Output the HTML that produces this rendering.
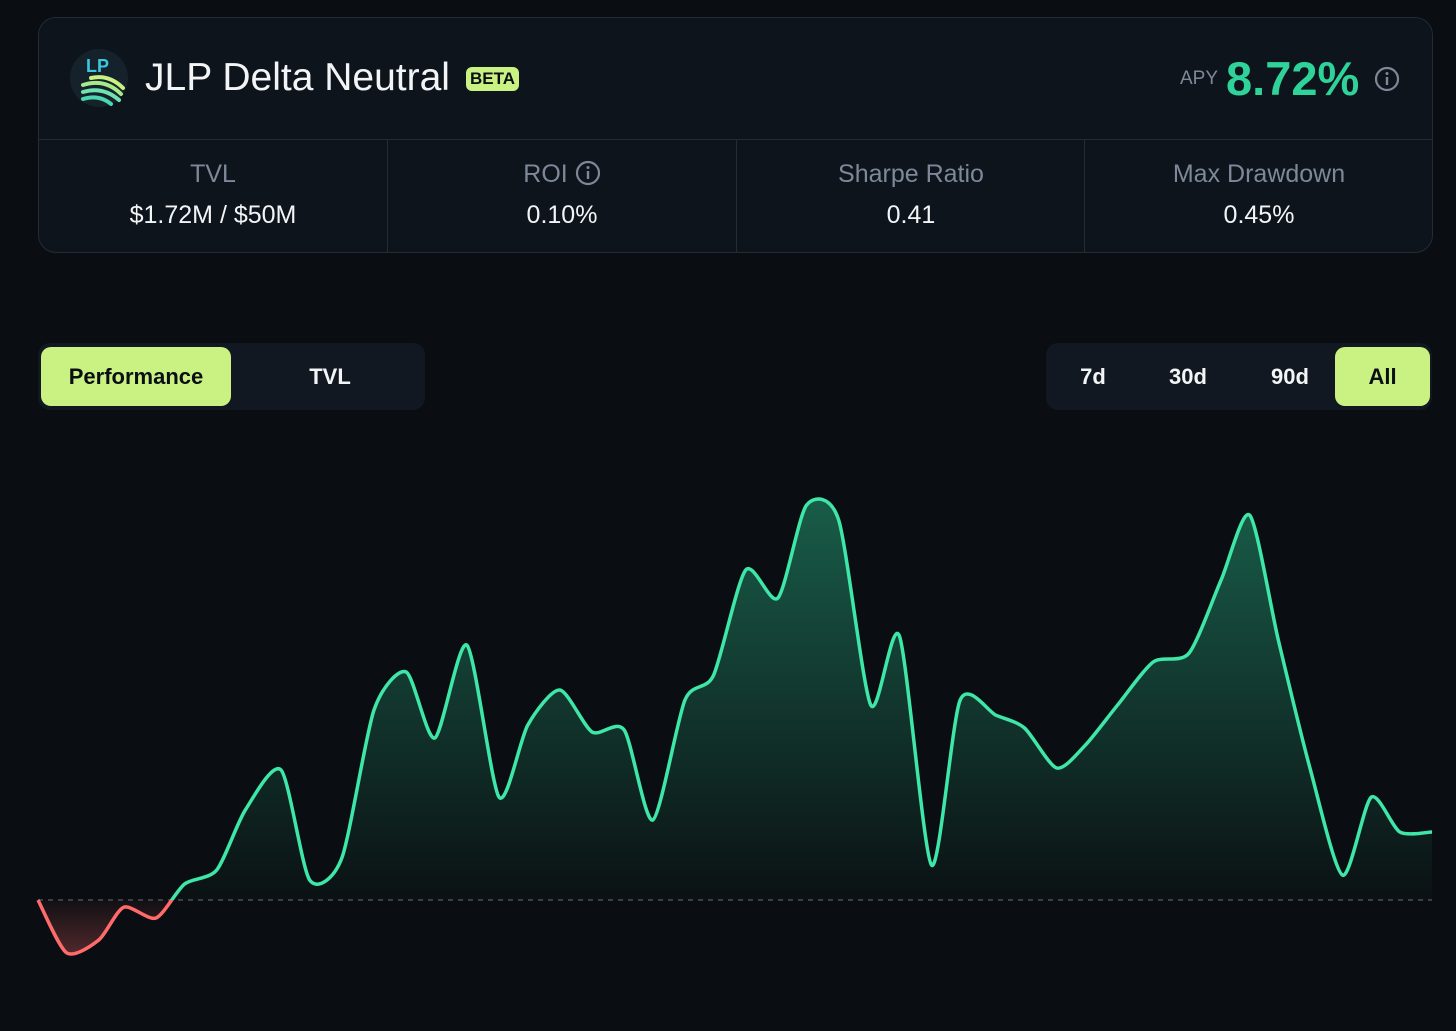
<!DOCTYPE html>
<html><head><meta charset="utf-8"><style>
body{margin:0;width:1456px;height:1031px;background:#0a0d11;font-family:"Liberation Sans",sans-serif;position:relative;overflow:hidden;color:#e8ecf0}
.card{position:absolute;left:38px;top:17px;width:1393px;height:234px;border:1px solid #222b36;border-radius:18px;background:#0e141c}
.hdr{position:absolute;left:0;top:0;width:100%;height:121px;border-bottom:1px solid #222b36}
.stat{position:absolute;top:122px;height:112px;width:348px;text-align:center;border-left:1px solid #222b36}
.stat .l{margin-top:20px;font-size:25px;color:#7d8899}
.stat .v{margin-top:12px;font-size:25px;color:#f2f4f6}
.tog{position:absolute;background:#111821;border-radius:12px;top:343px;height:67px}
.btn{position:absolute;top:4px;height:59px;line-height:59px;text-align:center;font-size:22px;font-weight:bold;color:#f2f4f6;border-radius:10px}
.on{background:#c9f283;color:#0b0f14}
</style></head><body>
<div class="card">
 <div class="hdr">
  <svg style="position:absolute;left:30px;top:30px" width="60" height="60">
   <circle cx="30" cy="30" r="29" fill="#16222b"/>
   <text x="17" y="24" font-size="18" font-weight="bold" fill="#3ac7e0" font-family="Liberation Sans">LP</text>
   <path d="M14 44 Q34 38 50 52" stroke="#6fe3b0" stroke-width="4" fill="none" stroke-linecap="round"/>
   <path d="M14 37 Q36 30 52 46" stroke="#a8e98a" stroke-width="4" fill="none" stroke-linecap="round"/>
   <path d="M22 30 Q40 26 54 40" stroke="#c9f283" stroke-width="4" fill="none" stroke-linecap="round"/>
   <path d="M14 51 Q30 46 42 56" stroke="#4ad6b0" stroke-width="4" fill="none" stroke-linecap="round"/>
  </svg>
  <div style="position:absolute;left:106px;top:38px;font-size:39px;color:#f2f4f6">JLP Delta Neutral</div>
  <div style="position:absolute;left:427px;top:49px;background:#c9f283;color:#0b0f14;font-size:17px;font-weight:bold;padding:2px 4px;border-radius:6px">BETA</div>
  <div style="position:absolute;left:1141px;top:50px;font-size:19px;color:#7d8899">APY</div>
  <div style="position:absolute;left:1187px;top:33px;font-size:47px;font-weight:bold;color:#2fd39a">8.72%</div>
  <svg style="position:absolute;left:1335px;top:48px" width="26" height="26"><circle cx="13" cy="13" r="11" stroke="#7d8899" stroke-width="2.2" fill="none"/><rect x="11.8" y="11" width="2.4" height="8" fill="#7d8899"/><circle cx="13" cy="7.5" r="1.5" fill="#7d8899"/></svg>
 </div>
 <div class="stat" style="left:0;border-left:none"><div class="l">TVL</div><div class="v">$1.72M / $50M</div></div>
 <div class="stat" style="left:348px"><div class="l">ROI <svg width="26" height="26" style="vertical-align:-4px"><circle cx="13" cy="13" r="11" stroke="#7d8899" stroke-width="2.2" fill="none"/><rect x="11.8" y="11" width="2.4" height="8" fill="#7d8899"/><circle cx="13" cy="7.5" r="1.5" fill="#7d8899"/></svg></div><div class="v">0.10%</div></div>
 <div class="stat" style="left:697px"><div class="l">Sharpe Ratio</div><div class="v">0.41</div></div>
 <div class="stat" style="left:1045px"><div class="l">Max Drawdown</div><div class="v">0.45%</div></div>
</div>
<div class="tog" style="left:38px;width:387px">
 <div class="btn on" style="left:3px;width:190px">Performance</div>
 <div class="btn" style="left:197px;width:190px">TVL</div>
</div>
<div class="tog" style="left:1046px;width:386px">
 <div class="btn" style="left:4px;width:86px">7d</div>
 <div class="btn" style="left:96px;width:92px">30d</div>
 <div class="btn" style="left:196px;width:96px">90d</div>
 <div class="btn on" style="left:289px;width:95px">All</div>
</div>
<svg id="chart" width="1456" height="1031" style="position:absolute;left:0;top:0"></svg>
<script>
const days=[0,8,17,24,33,41,50,58,68,76,85,94,103,111,120,129,137,146,155,164,172,181,189,198,207,215,224,233,241,250,258,268,276,285,293,302,312,322,331,339,347,356,365,373,381,390];
const values=[0,-13.2,-10,-1.8,-4.5,4,7.5,22.5,32.5,5,10.5,47.5,57,40.5,63.7,25.7,43.7,52.5,42,42.5,20,50,56.2,82.5,75.5,98.7,95,48.7,66,8.7,50,46.2,43,33,38.7,48.7,59.5,61.7,80,96.2,65,32.5,6.2,25.7,17,17];
const x0=38,x1=1432,zeroY=900,unit=4;
const xs=d=>x0+(d-days[0])/(days[days.length-1]-days[0])*(x1-x0);
const ys=v=>zeroY-v*unit;
const ns="http://www.w3.org/2000/svg",svg=document.getElementById('chart');
const P=days.map((d,i)=>[xs(d),ys(values[i])]);
let path=`M${P[0][0]},${P[0][1]}`;
for(let i=0;i<P.length-1;i++){const p0=P[i-1]||P[i],p1=P[i],p2=P[i+1],p3=P[i+2]||p2;const t=8;
path+=` C${p1[0]+(p2[0]-p0[0])/t},${p1[1]+(p2[1]-p0[1])/t} ${p2[0]-(p3[0]-p1[0])/t},${p2[1]-(p3[1]-p1[1])/t} ${p2[0]},${p2[1]}`;}
const area=path+` L${P[P.length-1][0]},${zeroY} L${P[0][0]},${zeroY} Z`;
svg.innerHTML=`<defs>
<linearGradient id="gg" x1="0" y1="${ys(100)}" x2="0" y2="${zeroY}" gradientUnits="userSpaceOnUse"><stop offset="0" stop-color="#2fd39a" stop-opacity="0.4"/><stop offset="1" stop-color="#2fd39a" stop-opacity="0.02"/></linearGradient>
<linearGradient id="rg" x1="0" y1="${zeroY}" x2="0" y2="${ys(-14)}" gradientUnits="userSpaceOnUse"><stop offset="0" stop-color="#ff6b6b" stop-opacity="0.03"/><stop offset="1" stop-color="#ff6b6b" stop-opacity="0.3"/></linearGradient>
<clipPath id="above"><rect x="0" y="0" width="1456" height="${zeroY}"/></clipPath>
<clipPath id="below"><rect x="0" y="${zeroY}" width="1456" height="200"/></clipPath></defs>`;
function add(tag,attrs,name){const e=document.createElementNS(ns,tag);for(const k in attrs)e.setAttribute(k,attrs[k]);


svg.appendChild(e);return e;}
add('path',{d:area,fill:'url(#gg)','clip-path':'url(#above)'},'positive-area');
add('path',{d:area,fill:'url(#rg)','clip-path':'url(#below)'},'negative-area');
add('line',{x1:x0,x2:x1,y1:zeroY,y2:zeroY,stroke:'#4a5058','stroke-width':1.5,'stroke-dasharray':'5 5'},'zero-line');
add('path',{d:path,fill:'none',stroke:'#3ee6a8','stroke-width':3.5,'clip-path':'url(#above)'},'performance-line-positive');
add('path',{d:path,fill:'none',stroke:'#ff6a6a','stroke-width':3.5,'clip-path':'url(#below)'},'performance-line-negative');
</script>
</body></html>
